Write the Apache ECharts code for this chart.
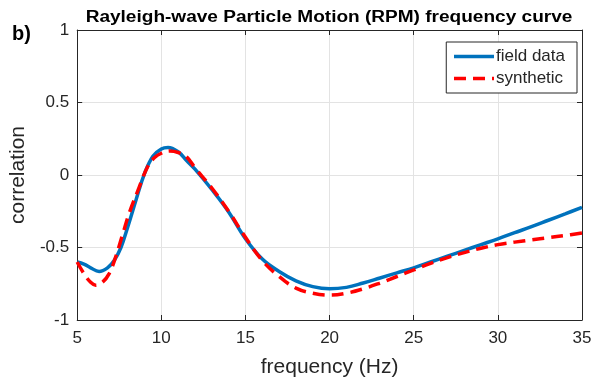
<!DOCTYPE html>
<html>
<head>
<meta charset="utf-8">
<script src="https://cdn.jsdelivr.net/npm/echarts@6/dist/echarts.min.js"></script>
<style>html,body{margin:0;padding:0;background:#fff}#c{width:603px;height:383px}</style>
</head>
<body>
<div id="c"></div>
<script>
const fieldFreq = [5,5.4,5.8,6.3,6.8,7.2,7.6,8,8.5,9,9.5,10,10.4,11,11.5,12,13,14,15,16,17,18,19,20,21,22,23,24,25,26,27,28,29,30,31,32,33,34,35];
const fieldVals = [-0.60,-0.615,-0.64,-0.665,-0.64,-0.59,-0.50,-0.36,-0.17,0.01,0.13,0.18,0.19,0.16,0.10,0.04,-0.10,-0.255,-0.44,-0.58,-0.665,-0.73,-0.77,-0.785,-0.775,-0.745,-0.71,-0.675,-0.64,-0.60,-0.56,-0.52,-0.48,-0.44,-0.398,-0.356,-0.312,-0.268,-0.223];
const synFreq = [5,5.4,5.8,6.1,6.5,6.9,7.3,7.7,8.1,8.6,9.2,9.6,10,10.5,11,11.5,12,13,14,15,16,17,18,19,20,21,22,23,24,25,26,27,28,29,30,31,32,33,34,35];
const synVals = [-0.60,-0.68,-0.74,-0.76,-0.74,-0.68,-0.56,-0.41,-0.26,-0.11,0.06,0.12,0.15,0.165,0.155,0.125,0.05,-0.09,-0.25,-0.43,-0.59,-0.70,-0.78,-0.815,-0.828,-0.815,-0.785,-0.745,-0.70,-0.655,-0.61,-0.57,-0.535,-0.505,-0.48,-0.463,-0.447,-0.432,-0.417,-0.40];
const xTicks = [5,10,15,20,25,30,35];
const yTicks = [-1,-0.5,0,0.5,1];

const FONT = '"Liberation Sans", Arial, sans-serif';
const TXT = '#262626';
const chart = echarts.init(document.getElementById('c'));
const zip = (a,b) => a.map((v,i)=>[v,b[i]]);
const baseX = {
  type:'value', min:5, max:35, interval:5,
  axisLine:{show:true,onZero:false,lineStyle:{color:TXT,width:1}},
  axisTick:{show:true,inside:true,length:5,lineStyle:{color:TXT}},
};
const baseY = {
  type:'value', min:-1, max:1, interval:0.5,
  axisLine:{show:true,onZero:false,lineStyle:{color:TXT,width:1}},
  axisTick:{show:true,inside:true,length:5,lineStyle:{color:TXT}},
};
chart.setOption({
  animation:false,
  backgroundColor:'#fff',
  graphic:[
    {type:'text', left:12, top:24, style:{text:'b)', font:'bold 20px '+FONT, fill:'#000'}},
    {type:'text', x:329, y:18, scaleX:1.19, style:{text:'Rayleigh-wave Particle Motion (RPM) frequency curve',
      font:'bold 16px '+FONT, fill:'#000', align:'center', verticalAlign:'middle'}}
  ],
  grid:{left:77,right:21,top:30,bottom:62,containLabel:false},
  legend:{orient:'vertical', right:26, top:42, padding:[6,12,6,6], itemGap:5, itemWidth:40, itemHeight:14,
    backgroundColor:'#fff', borderColor:TXT, borderWidth:1, borderRadius:0,
    itemStyle:{opacity:0},
    lineStyle:{width:3.5},
    textStyle:{fontFamily:FONT,fontSize:17,color:TXT,padding:[0,0,0,-3]},
    data:['field data','synthetic']},
  xAxis:[
    Object.assign({}, baseX, {position:'bottom', name:'frequency (Hz)', nameLocation:'middle', nameGap:37,
      nameTextStyle:{fontFamily:FONT,fontSize:21,color:TXT},
      axisLabel:{fontFamily:FONT,fontSize:17,color:TXT,margin:10},
      splitLine:{show:true,lineStyle:{color:'#e3e3e3',width:1}}}),
    Object.assign({}, baseX, {position:'top', axisLabel:{show:false}, splitLine:{show:false}})
  ],
  yAxis:[
    Object.assign({}, baseY, {position:'left', name:'correlation', nameLocation:'middle', nameGap:45,
      nameTextStyle:{fontFamily:FONT,fontSize:21,color:TXT},
      axisLabel:{fontFamily:FONT,fontSize:17,color:TXT,margin:8,
        formatter:v=>String(v)},
      splitLine:{show:true,lineStyle:{color:'#e3e3e3',width:1}}}),
    Object.assign({}, baseY, {position:'right', axisLabel:{show:false}, splitLine:{show:false}})
  ],
  series:[
    {name:'field data', type:'line', smooth:0.4, symbol:'none', data:zip(fieldFreq,fieldVals),
      lineStyle:{color:'#0072BD',width:3.5}, itemStyle:{color:'#0072BD'}, z:2},
    {name:'synthetic', type:'line', smooth:0.4, symbol:'none', data:zip(synFreq,synVals),
      lineStyle:{color:'#ff0000',width:3.5,type:[12,7]}, itemStyle:{color:'#ff0000'}, z:3}
  ]
});
</script>
</body>
</html>
